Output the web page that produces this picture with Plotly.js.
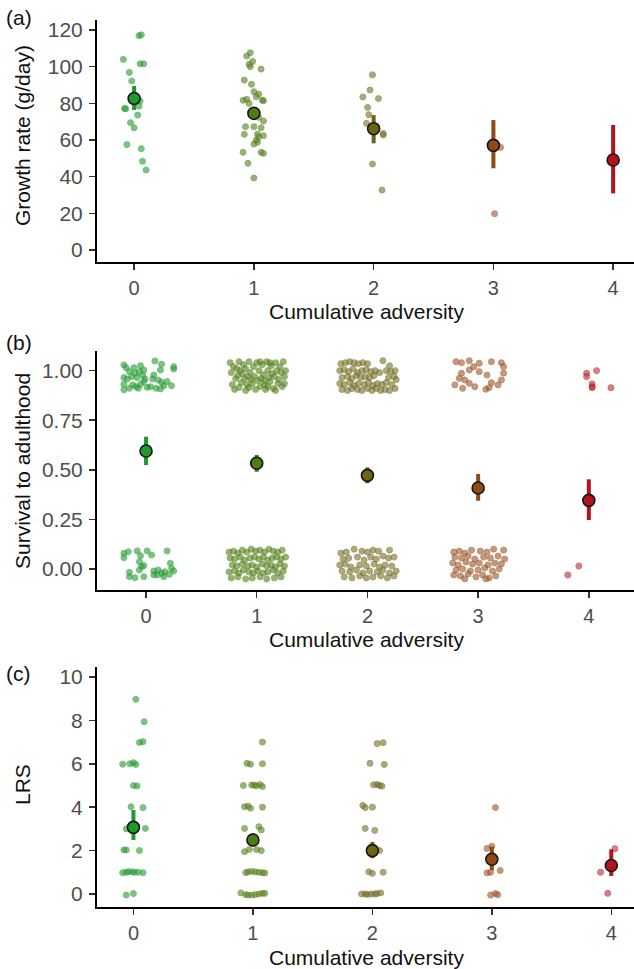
<!DOCTYPE html>
<html><head><meta charset="utf-8">
<script src="https://cdn.plot.ly/plotly-3.0.1.min.js"></script>
<style>html,body{margin:0;padding:0;background:#fff}#chart{width:634px;height:969px}</style>
</head><body><div id="chart"></div>
<script>
// ---------- categories ----------
const groups = [0, 1, 2, 3, 4];
const groupLabels = ['0', '1', '2', '3', '4'];
const meanColors = ['#1f9a2c', '#4f7c14', '#6e6312', '#8f4a16', '#b3141c'];
const pointColors = ['#2b9e38', '#58861e', '#7a7432', '#a45a32', '#c0303f'];

// ---------- panel (a): growth rate ----------
const growthMean = [82.7, 74.6, 66.2, 57.1, 49.1];
const growthLo = [76.4, 70.9, 58.2, 44.6, 30.9];
const growthHi = [89.5, 77.8, 73.6, 70.9, 68.2];
const growthG0 = [[0.04,116.9],[0.06,117.4],[-0.09,104],[0.05,101.6],[0.08,101.6],[-0.04,96.9],[-0.02,92.2],[-0.08,77.3],[-0.07,77.0],[0.05,81.3],[0.04,78.5],[0.03,73.6],[-0.03,69.5],[0.0,66.7],[-0.06,57.5],[0.06,55.3],[0.07,48.4],[0.1,43.6]];
const growthG1 = [[-0.06,105.8],[-0.03,107.6],[-0.01,102.9],[-0.03,100],[-0.04,101.3],[0.06,98.7],[-0.08,92.7],[-0.02,90.4],[0,86.4],[0.04,85.1],[0.02,83.6],[-0.09,81.7],[-0.06,82.2],[0.08,81.4],[0.07,81.8],[-0.04,80],[0.04,72.4],[0.08,70.4],[-0.07,67.3],[0,67.3],[0.06,66.7],[-0.08,63.1],[0.08,62.4],[0.03,63.3],[0.04,61.8],[0,57.8],[0.02,60],[0.03,58.8],[-0.09,53.3],[0.06,53.3],[0.08,52.7],[-0.05,47.3],[0,39.3]];
const growthG2 = [[-0.01,95.6],[-0.03,87.3],[-0.09,83.5],[0.04,82.6],[-0.05,77.8],[-0.04,73.8],[-0.06,69.1],[0.08,63.6],[0.08,62.7],[-0.01,46.9],[0.07,32.7]];
const growthG3 = [[0.06,56],[0.01,19.8]];
const growthG4 = [];

// ---------- panel (b): survival ----------
const survMean = [0.595, 0.533, 0.472, 0.408, 0.346];
const survLo = [0.524, 0.49, 0.432, 0.344, 0.247];
const survHi = [0.667, 0.575, 0.512, 0.479, 0.452];
const survG0 = [[-0.2,1.029],[-0.18,1.015],[-0.11,1.015],[-0.05,1.025],[-0.02,1.003],[-0.06,0.995],[0.08,1.049],[0.14,1.032],[0.13,1.003],[0.25,1.02],[0.25,1.008],[-0.15,0.995],[-0.1,0.987],[-0.13,0.97],[-0.2,0.965],[-0.17,0.958],[-0.08,0.965],[-0.03,0.978],[-0.01,0.958],[0.07,0.978],[0.06,0.958],[0.11,0.953],[0.14,0.941],[0.16,0.924],[0.23,0.924],[-0.2,0.931],[-0.12,0.928],[-0.09,0.919],[-0.07,0.911],[-0.05,0.931],[0.01,0.916],[0.04,0.919],[0.09,0.911],[0.13,0.908],[-0.2,0.903],[-0.15,0.911],[-0.02,0.945],[0.19,0.945],
  [-0.2,0.079],[-0.16,0.087],[-0.08,0.091],[-0.05,0.067],[0.01,0.091],[0.05,0.07],[0.19,0.091],[-0.2,0.057],[-0.06,0.037],[-0.04,0.012],[-0.02,0.017],[0.07,-0.01],[0.11,-0.005],[0.14,-0.022],[0.17,-0.014],[0.21,-0.027],[0.23,0.003],[0.25,-0.01],[0.22,0.029],[-0.15,-0.017],[-0.15,-0.039],[-0.1,-0.044],[-0.02,-0.039],[0.1,-0.03],[0.16,-0.039],[0.07,-0.03],[-0.06,-0.005]];
const survG1 = [[-0.24,1.04],[-0.21,1.02],[-0.23,0.99],[-0.19,0.96],[-0.22,0.93],[-0.2,0.905],[-0.16,1.045],[-0.15,1.0],[-0.17,0.975],[-0.14,0.94],[-0.16,0.915],[-0.12,1.03],[-0.1,1.01],[-0.11,0.96],[-0.13,0.985],[-0.09,0.93],[-0.1,0.9],[-0.07,1.045],[-0.06,0.99],[-0.05,0.955],[-0.07,0.915],[-0.03,1.02],[-0.02,0.97],[-0.04,0.935],[-0.01,0.905],[0.0,1.04],[0.02,1.0],[0.01,0.95],[0.03,0.92],[0.05,1.03],[0.06,0.98],[0.04,0.96],[0.07,0.93],[0.08,0.905],[0.09,1.045],[0.1,1.0],[0.11,0.965],[0.1,0.92],[0.13,1.025],[0.14,0.985],[0.12,0.945],[0.15,0.91],[0.17,1.04],[0.18,1.0],[0.16,0.97],[0.19,0.935],[0.17,0.9],[0.21,1.02],[0.22,0.99],[0.2,0.955],[0.23,0.92],[0.24,1.045],[0.25,0.97],[0.26,1.0],[0.25,0.935],[-0.18,1.01],[0.03,1.045],[-0.08,0.97],[0.12,1.04],[0.07,0.95],
  [-0.25,0.085],[-0.21,0.09],[-0.17,0.08],[-0.13,0.095],[-0.09,0.085],[-0.05,0.1],[-0.01,0.09],[0.03,0.095],[0.07,0.085],[0.11,0.1],[0.15,0.09],[0.19,0.085],[0.23,0.095],[-0.24,0.055],[-0.2,0.05],[-0.15,0.06],[-0.11,0.045],[-0.06,0.055],[-0.02,0.06],[0.02,0.05],[0.06,0.06],[0.1,0.045],[0.14,0.055],[0.18,0.06],[0.22,0.05],[0.26,0.06],[-0.22,0.02],[-0.18,0.015],[-0.13,0.025],[-0.08,0.015],[-0.04,0.02],[0.0,0.01],[0.05,0.025],[0.09,0.015],[0.13,0.02],[0.17,0.01],[0.21,0.025],[0.25,0.015],[-0.25,-0.015],[-0.2,-0.01],[-0.16,-0.02],[-0.12,-0.005],[-0.07,-0.015],[-0.03,-0.02],[0.01,-0.01],[0.06,-0.02],[0.1,-0.015],[0.15,-0.005],[0.19,-0.02],[0.24,-0.01],[-0.23,-0.045],[-0.17,-0.04],[-0.1,-0.05],[-0.04,-0.045],[0.03,-0.04],[0.09,-0.05],[0.16,-0.045],[0.22,-0.04]];
const survG2 = [[-0.24,1.035],[-0.2,1.04],[-0.16,1.045],[-0.12,1.04],[-0.08,1.035],[-0.04,1.04],[0.0,1.035],[0.14,1.05],[0.2,1.025],[-0.25,1.0],[-0.21,1.005],[-0.17,0.995],[-0.13,1.01],[-0.09,0.99],[-0.05,1.0],[-0.01,1.005],[0.03,0.995],[0.07,1.0],[0.11,0.99],[0.17,1.0],[0.21,0.995],[0.25,1.0],[-0.23,0.965],[-0.18,0.97],[-0.14,0.96],[-0.1,0.975],[-0.06,0.965],[-0.02,0.97],[0.02,0.965],[0.06,0.975],[0.19,0.965],[0.24,0.97],[0.26,0.955],[-0.25,0.935],[-0.21,0.93],[-0.16,0.94],[-0.12,0.925],[-0.08,0.935],[-0.03,0.93],[0.01,0.94],[0.05,0.925],[0.09,0.935],[0.13,0.93],[0.17,0.94],[0.22,0.93],[-0.23,0.905],[-0.18,0.9],[-0.14,0.91],[-0.09,0.905],[-0.05,0.9],[0.0,0.91],[0.04,0.9],[0.08,0.91],[0.12,0.9],[0.16,0.905],[0.2,0.9],[0.25,0.91],
  [-0.24,0.08],[-0.19,0.085],[-0.12,0.1],[-0.05,0.09],[0.0,0.085],[0.05,0.095],[0.1,0.09],[0.2,0.095],[-0.22,0.05],[-0.17,0.055],[-0.09,0.06],[-0.03,0.045],[0.03,0.06],[0.08,0.05],[0.14,0.065],[0.19,0.055],[0.24,0.06],[-0.25,0.02],[-0.2,0.025],[-0.15,0.01],[-0.07,0.02],[-0.01,0.015],[0.06,0.025],[0.11,0.01],[0.16,0.02],[0.22,0.015],[-0.23,-0.01],[-0.16,-0.015],[-0.1,-0.005],[-0.04,-0.02],[0.02,-0.01],[0.09,-0.015],[0.14,-0.005],[0.2,-0.02],[0.26,-0.01],[-0.21,-0.04],[-0.14,-0.045],[-0.07,-0.035],[-0.01,-0.045],[0.05,-0.04],[0.12,-0.035],[0.18,-0.045],[0.24,-0.035]];
const survG3 = [[-0.2,1.045],[-0.15,1.04],[-0.08,1.05],[0.01,1.037],[0.12,1.045],[0.21,1.04],[-0.15,0.987],[-0.08,1.003],[0.01,0.995],[-0.17,0.961],[-0.12,0.953],[0.08,0.978],[0.23,0.987],[0.21,0.953],[-0.08,0.936],[0.12,0.939],[-0.14,0.911],[-0.03,0.919],[0.07,0.906],[0.1,0.914],[-0.21,0.928],[0.18,0.928],[0.23,1.02],[-0.04,1.02],
  [-0.22,0.085],[-0.17,0.09],[-0.12,0.08],[-0.06,0.095],[0.02,0.09],[0.08,0.085],[0.14,0.1],[0.23,0.095],[-0.21,0.06],[-0.15,0.055],[-0.09,0.065],[-0.03,0.05],[0.05,0.06],[0.11,0.055],[0.18,0.065],[0.24,0.05],[-0.23,0.03],[-0.18,0.02],[-0.11,0.035],[-0.05,0.025],[0.01,0.03],[0.09,0.02],[0.15,0.03],[0.21,0.025],[-0.2,-0.005],[-0.14,0.0],[-0.07,-0.01],[0.0,-0.005],[0.06,0.005],[0.13,-0.01],[0.19,0.0],[-0.22,-0.03],[-0.16,-0.035],[-0.09,-0.025],[-0.02,-0.04],[0.04,-0.03],[0.1,-0.045],[0.16,-0.035],[-0.12,-0.05],[0.07,-0.05]];
const survG4 = [[-0.02,0.987],[-0.02,0.97],[0.07,1.0],[0.03,0.933],[0.03,0.919],[0.03,0.914],[0.2,0.914],[-0.19,-0.03],[-0.09,0.015]];

// ---------- panel (c): LRS ----------
const lrsMean = [3.07, 2.49, 2.0, 1.6, 1.31];
const lrsLo = [2.49, 2.2, 1.65, 1.1, 0.83];
const lrsHi = [3.87, 2.8, 2.4, 2.18, 2.06];
const lrsG0 = [[0.02,8.97],[0.09,7.94],[0.05,6.98],[0.08,7.02],[-0.09,5.98],[-0.03,6.0],[0,6.05],[0.02,5.97],[0,5.0],[0.03,4.98],[-0.02,4.02],[0.08,3.98],[-0.06,3.0],[0.1,3.02],[-0.01,3.05],[-0.08,2.03],[-0.06,2.03],[0.05,2.0],[-0.09,0.98],[-0.06,1.0],[-0.04,1.03],[-0.01,1.02],[0.01,1.0],[0.04,1.0],[0.08,0.98],[-0.06,-0.05],[0,0.02]];
const lrsG1 = [[0.08,7.0],[-0.05,6.02],[-0.02,5.98],[0.08,6.0],[-0.08,5.0],[-0.01,5.02],[0.01,5.02],[0.03,4.98],[0.06,5.04],[0.08,4.95],[-0.07,4.02],[-0.04,4.05],[-0.02,3.95],[0.08,4.0],[-0.07,3.02],[0.05,3.1],[0.07,2.95],[-0.07,1.95],[-0.03,2.05],[0.03,2.05],[0.07,2.0],[-0.06,0.98],[-0.04,1.02],[-0.01,1.04],[0.02,1.02],[0.05,1.0],[0.08,0.98],[0.1,0.97],[-0.1,0.05],[-0.06,-0.03],[-0.04,-0.05],[-0.01,-0.05],[0.02,-0.03],[0.05,0.0],[0.08,0.03],[0.1,0.03]];
const lrsG2 = [[0.04,6.93],[0.09,6.97],[-0.02,6.02],[0.1,5.97],[0.01,5.03],[0.04,5.05],[0.06,5.0],[0.08,4.97],[-0.08,4.08],[-0.06,3.98],[0,4.0],[-0.06,3.02],[0.02,2.93],[0.06,2.0],[-0.03,1.02],[0,0.95],[0.09,1.0],[-0.09,0.0],[-0.06,0.0],[-0.04,-0.02],[-0.01,0.0],[0.02,0.0],[0.04,0.02],[0.07,0.05]];
const lrsG3 = [[0.03,3.98],[-0.04,2.1],[0,2.2],[-0.04,0.97],[-0.01,1.0],[0.07,1.08],[-0.01,-0.05],[0.03,0.02],[0.05,-0.03]];
const lrsG4 = [[0.03,2.09],[-0.09,1.0],[-0.03,0.03]];

// ---------- tick labels ----------
const growthTicks = [0, 20, 40, 60, 80, 100, 120];
const survTicks = [0, 0.25, 0.5, 0.75, 1];
const survTickText = ['0.00', '0.25', '0.50', '0.75', '1.00'];
const lrsTicks = [0, 2, 4, 6, 8, 10];

const FONT = 'Liberation Sans, Arial, Helvetica, sans-serif';
const traces = [];

function addPanel(ptsByGroup, mean, lo, hi, xa, ya) {
  groups.forEach((g, i) => {
    const pts = ptsByGroup[i];
    if (pts.length) {
      traces.push({
        type: 'scatter', mode: 'markers', xaxis: xa, yaxis: ya, hoverinfo: 'skip',
        x: pts.map(p => g + p[0]), y: pts.map(p => p[1]),
        marker: { size: 6, color: pointColors[i], opacity: 0.62,
                  line: { color: meanColors[i], width: 1 } },
        showlegend: false
      });
    }
  });
  groups.forEach((g, i) => {
    traces.push({
      type: 'scatter', mode: 'markers', xaxis: xa, yaxis: ya, hoverinfo: 'skip',
      x: [g], y: [mean[i]],
      error_y: { type: 'data', symmetric: false, array: [hi[i] - mean[i]],
                 arrayminus: [mean[i] - lo[i]], color: meanColors[i], thickness: 4, width: 0 },
      marker: { size: 12, color: meanColors[i], line: { color: '#151515', width: 1.6 } },
      showlegend: false
    });
  });
}

addPanel([growthG0, growthG1, growthG2, growthG3, growthG4], growthMean, growthLo, growthHi, 'x', 'y');
addPanel([survG0, survG1, survG2, survG3, survG4], survMean, survLo, survHi, 'x2', 'y2');
addPanel([lrsG0, lrsG1, lrsG2, lrsG3, lrsG4], lrsMean, lrsLo, lrsHi, 'x3', 'y3');

const W = 634, H = 969;
function xAxis(range, anchor) {
  return {
    domain: [97 / W, 1], range: range, anchor: anchor,
    tickmode: 'array', tickvals: groups, ticktext: groupLabels,
    showline: true, linecolor: '#000', linewidth: 2, mirror: false,
    ticks: 'outside', ticklen: 6, tickwidth: 1.5, tickcolor: '#333',
    tickfont: { family: FONT, size: 20, color: '#4d4d4d' }, ticklabelstandoff: 1,
    showgrid: false, zeroline: false, fixedrange: true
  };
}
function yAxis(domainPx, range, anchor, tickvals, ticktext) {
  return {
    domain: [1 - domainPx[1] / H, 1 - domainPx[0] / H], range: range, anchor: anchor,
    tickmode: 'array', tickvals: tickvals, ticktext: ticktext,
    showline: true, linecolor: '#000', linewidth: 2,
    ticks: 'outside', ticklen: 6, tickwidth: 1.5, tickcolor: '#333',
    tickfont: { family: FONT, size: 21, color: '#4d4d4d' }, ticklabelstandoff: 2,
    showgrid: false, zeroline: false, fixedrange: true
  };
}

const titleFont = { family: FONT, size: 21, color: '#111' };
function ann(text, xpx, ypx, angle, anchorX) {
  return { text: text, xref: 'paper', yref: 'paper', x: xpx / W, y: 1 - ypx / H,
           xanchor: anchorX || 'center', yanchor: 'middle', showarrow: false,
           textangle: angle || 0, font: titleFont };
}

const layout = {
  width: W, height: H, margin: { l: 0, r: 0, t: 0, b: 0 },
  paper_bgcolor: '#fff', plot_bgcolor: '#fff', showlegend: false,
  xaxis: xAxis([-0.31, 4.174], 'y'),
  yaxis: yAxis([20, 262], [-6.55, 125.5], 'x', growthTicks, growthTicks.map(String)),
  xaxis2: xAxis([-0.443, 4.408], 'y2'),
  yaxis2: yAxis([351, 590], [-0.106, 1.099], 'x2', survTicks, survTickText),
  xaxis3: xAxis([-0.305, 4.19], 'y3'),
  yaxis3: yAxis([667, 907], [-0.6, 10.46], 'x3', lrsTicks, lrsTicks.map(String)),
  annotations: [
    ann('(a)', 4, 17, 0, 'left'),
    ann('(b)', 4, 342, 0, 'left'),
    ann('(c)', 4, 673, 0, 'left'),
    ann('Growth rate (g/day)', 22, 136, -90),
    ann('Survival to adulthood', 22, 471, -90),
    ann('LRS', 22, 785, -90),
    ann('Cumulative adversity', 366, 312, 0),
    ann('Cumulative adversity', 366, 639, 0),
    ann('Cumulative adversity', 366, 957, 0)
  ]
};

Plotly.newPlot('chart', traces, layout, { displayModeBar: false, staticPlot: true });
</script>
</body></html>
